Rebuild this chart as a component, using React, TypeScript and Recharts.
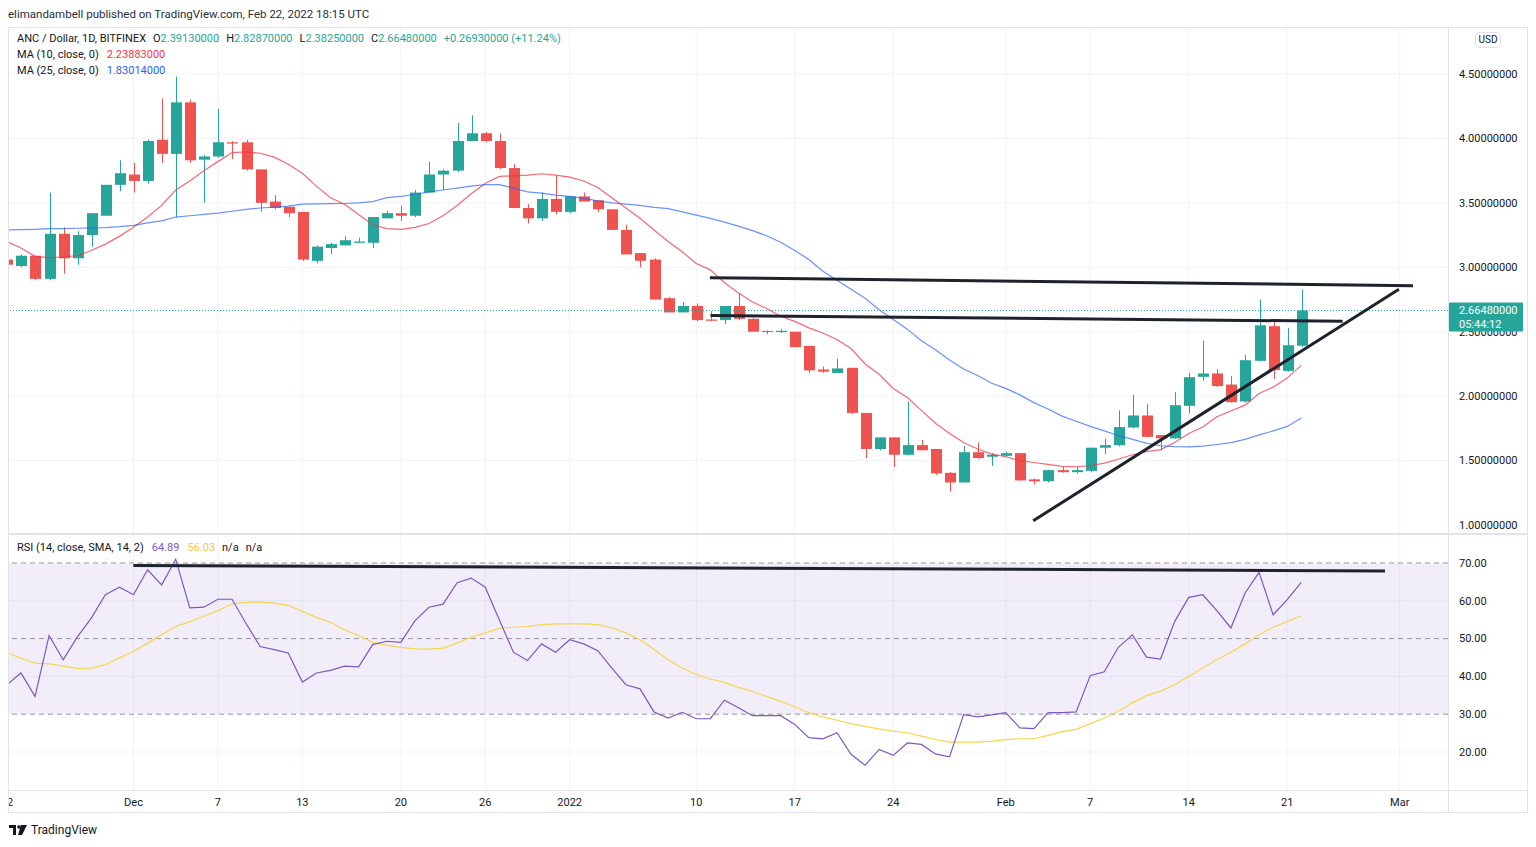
import React from 'react';
import { ComposedChart, Bar, Line, XAxis, YAxis, ReferenceLine, ReferenceArea, CartesianGrid } from 'recharts';

// Daily candles, Nov 22 2021 (index 0) .. Feb 22 2022 (index 92)
const opens = [3.06, 3.01, 3.09, 2.91, 3.26, 3.07, 3.25, 3.40, 3.64, 3.72, 3.67, 3.99, 3.88, 4.28, 3.835, 3.86, 3.97, 3.97, 3.76, 3.51, 3.47, 3.43, 3.05, 3.15, 3.17, 3.19, 3.19, 3.38, 3.42, 3.40, 3.58, 3.72, 3.75, 3.98, 4.04, 3.98, 3.77, 3.46, 3.38, 3.53, 3.43, 3.55, 3.52, 3.45, 3.29, 3.11, 3.06, 2.76, 2.65, 2.70, 2.595, 2.59, 2.70, 2.60, 2.506, 2.497, 2.50, 2.39, 2.207, 2.18, 2.22, 1.87, 1.59, 1.68, 1.545, 1.62, 1.59, 1.405, 1.33, 1.565, 1.53, 1.537, 1.558, 1.354, 1.34, 1.426, 1.41, 1.42, 1.60, 1.62, 1.757, 1.85, 1.698, 1.672, 1.925, 2.15, 2.176, 2.09, 1.959, 2.274, 2.543, 2.196, 2.3913];
const highs = [3.07, 3.10, 3.09, 3.58, 3.31, 3.28, 3.42, 3.64, 3.83, 3.81, 3.99, 4.31, 4.48, 4.30, 3.87, 4.23, 3.98, 3.99, 3.76, 3.56, 3.47, 3.43, 3.17, 3.19, 3.24, 3.23, 3.39, 3.44, 3.48, 3.60, 3.82, 3.76, 4.12, 4.18, 4.05, 4.04, 3.80, 3.49, 3.58, 3.71, 3.55, 3.58, 3.52, 3.45, 3.33, 3.11, 3.07, 2.77, 2.73, 2.72, 2.66, 2.70, 2.80, 2.61, 2.51, 2.52, 2.50, 2.39, 2.23, 2.29, 2.22, 1.87, 1.68, 1.68, 1.96, 1.66, 1.59, 1.41, 1.615, 1.64, 1.56, 1.57, 1.56, 1.36, 1.43, 1.45, 1.45, 1.60, 1.67, 1.89, 2.01, 1.94, 1.70, 2.03, 2.18, 2.43, 2.21, 2.155, 2.32, 2.75, 2.576, 2.53, 2.8287];
const lows = [3.01, 3.00, 2.90, 2.90, 2.95, 3.02, 3.16, 3.40, 3.59, 3.58, 3.65, 3.81, 3.39, 3.81, 3.50, 3.85, 3.84, 3.75, 3.43, 3.45, 3.39, 3.05, 3.03, 3.10, 3.17, 3.19, 3.15, 3.38, 3.36, 3.39, 3.58, 3.60, 3.74, 3.98, 3.97, 3.76, 3.46, 3.34, 3.36, 3.41, 3.42, 3.51, 3.43, 3.29, 3.10, 3.00, 2.75, 2.65, 2.65, 2.58, 2.58, 2.56, 2.59, 2.50, 2.48, 2.49, 2.38, 2.18, 2.18, 2.18, 1.86, 1.52, 1.58, 1.45, 1.54, 1.58, 1.39, 1.26, 1.33, 1.515, 1.46, 1.53, 1.345, 1.315, 1.33, 1.405, 1.40, 1.41, 1.55, 1.61, 1.75, 1.68, 1.58, 1.67, 1.865, 2.12, 2.07, 1.95, 1.95, 2.27, 2.134, 2.19, 2.3825];
const closes = [3.02, 3.09, 2.91, 3.26, 3.07, 3.25, 3.42, 3.64, 3.73, 3.67, 3.98, 3.88, 4.28, 3.83, 3.86, 3.97, 3.96, 3.76, 3.50, 3.46, 3.42, 3.06, 3.16, 3.18, 3.21, 3.20, 3.39, 3.42, 3.40, 3.58, 3.72, 3.75, 3.98, 4.04, 3.98, 3.77, 3.46, 3.38, 3.53, 3.43, 3.55, 3.51, 3.45, 3.29, 3.10, 3.05, 2.75, 2.65, 2.70, 2.59, 2.585, 2.70, 2.60, 2.50, 2.498, 2.507, 2.38, 2.20, 2.19, 2.215, 1.87, 1.59, 1.68, 1.545, 1.62, 1.58, 1.40, 1.33, 1.565, 1.52, 1.545, 1.558, 1.346, 1.339, 1.426, 1.41, 1.426, 1.60, 1.62, 1.76, 1.85, 1.684, 1.672, 1.93, 2.147, 2.176, 2.078, 1.953, 2.279, 2.55, 2.202, 2.3955, 2.6648];
const ma10 = [3.20, 3.15, 3.085, 3.075, 3.08, 3.09, 3.13, 3.18, 3.24, 3.31, 3.39, 3.48, 3.60, 3.67, 3.75, 3.82, 3.89, 3.895, 3.885, 3.855, 3.80, 3.73, 3.63, 3.54, 3.49, 3.41, 3.33, 3.30, 3.295, 3.31, 3.34, 3.40, 3.48, 3.57, 3.65, 3.705, 3.71, 3.715, 3.726, 3.715, 3.70, 3.67, 3.62, 3.54, 3.46, 3.38, 3.29, 3.20, 3.12, 3.03, 2.98, 2.88, 2.80, 2.73, 2.68, 2.62, 2.58, 2.53, 2.49, 2.44, 2.37, 2.25, 2.17, 2.06, 1.99, 1.89, 1.79, 1.71, 1.64, 1.59, 1.55, 1.53, 1.50, 1.485, 1.47, 1.455, 1.452, 1.46, 1.48, 1.51, 1.545, 1.57, 1.585, 1.64, 1.71, 1.76, 1.84, 1.885, 1.93, 2.02, 2.07, 2.14, 2.239];
const ma25 = [3.29, 3.292, 3.295, 3.30, 3.30, 3.303, 3.306, 3.308, 3.315, 3.326, 3.345, 3.36, 3.39, 3.40, 3.41, 3.42, 3.435, 3.45, 3.46, 3.467, 3.475, 3.49, 3.492, 3.494, 3.495, 3.50, 3.51, 3.54, 3.55, 3.565, 3.585, 3.60, 3.615, 3.63, 3.641, 3.641, 3.615, 3.585, 3.575, 3.56, 3.55, 3.535, 3.515, 3.50, 3.49, 3.48, 3.465, 3.455, 3.43, 3.405, 3.38, 3.35, 3.32, 3.285, 3.245, 3.195, 3.13, 3.06, 2.97, 2.90, 2.83, 2.76, 2.67, 2.595, 2.52, 2.43, 2.36, 2.28, 2.21, 2.16, 2.10, 2.06, 2.01, 1.95, 1.90, 1.845, 1.805, 1.765, 1.73, 1.695, 1.665, 1.635, 1.615, 1.608, 1.607, 1.612, 1.625, 1.64, 1.665, 1.70, 1.73, 1.765, 1.83];
const rsi = [37.8, 40.9, 34.7, 50.8, 44.4, 50.4, 55.4, 61.6, 63.6, 61.6, 68.2, 64.2, 71.0, 58.1, 58.3, 60.4, 60.4, 54.0, 47.9, 47.1, 46.2, 38.5, 40.9, 41.6, 42.7, 42.5, 48.4, 49.3, 49.0, 54.7, 58.3, 59.1, 64.8, 66.0, 63.6, 55.0, 46.4, 44.2, 48.6, 46.4, 49.7, 48.6, 46.8, 42.2, 37.8, 36.7, 30.6, 29.0, 30.5, 28.8, 28.8, 33.7, 31.7, 29.6, 29.6, 29.6, 27.3, 23.8, 23.5, 25.1, 19.4, 16.5, 20.7, 19.1, 22.4, 22.0, 19.5, 18.7, 29.9, 29.3, 29.8, 30.4, 26.4, 26.2, 30.4, 30.4, 30.6, 40.2, 41.2, 47.7, 51.0, 45.1, 44.6, 54.5, 60.9, 61.6, 57.4, 52.8, 62.0, 67.5, 56.3, 60.3, 64.89];
const rsiSma = [46.3, 44.8, 43.5, 43.3, 42.7, 42.1, 42.2, 43.1, 44.9, 46.6, 48.8, 51.0, 53.2, 54.5, 55.9, 57.4, 59.2, 59.6, 59.7, 59.4, 58.8, 57.2, 55.6, 54.3, 52.3, 50.8, 49.0, 48.2, 47.7, 47.3, 47.2, 47.5, 48.8, 50.4, 51.5, 52.7, 53.0, 53.2, 53.7, 53.9, 53.9, 53.9, 53.7, 52.8, 51.5, 49.7, 47.1, 44.4, 42.2, 40.5, 39.3, 38.4, 37.1, 36.0, 34.7, 33.4, 31.9, 30.4, 29.3, 28.4, 27.5, 26.8, 26.1, 25.5, 25.1, 24.2, 23.3, 22.6, 22.6, 22.6, 22.9, 23.3, 23.5, 23.5, 24.4, 25.4, 26.0, 27.5, 29.0, 30.8, 33.0, 34.9, 36.1, 37.8, 40.0, 42.2, 44.4, 46.4, 48.6, 51.0, 53.0, 54.5, 56.03];

const tickDays = [0, 9, 15, 21, 28, 34, 40, 49, 56, 63, 71, 77, 84, 91, 99];
const tickLabels = ['22', 'Dec', '7', '13', '20', '26', '2022', '10', '17', '24', 'Feb', '7', '14', '21', 'Mar'];
const priceTicks = [1, 1.5, 2, 2.5, 3, 3.5, 4, 4.5];
const rsiTicks = [20, 30, 40, 50, 60, 70];
const rsiGridLevels = [20, 40, 60];
const rsiDashedLevels = [30, 50, 70];
const priceDrawings = [
  { x1: 49.97, y1: 2.919, x2: 99.94, y2: 2.857 },
  { x1: 50.01, y1: 2.626, x2: 94.94, y2: 2.581 },
  { x1: 72.95, y1: 1.033, x2: 98.94, y2: 2.829 },
];
const rsiDrawings = [{ x1: 8.99, y1: 69.34, x2: 97.95, y2: 67.91 }];
const lastPrice = 2.6648;
const countdown = '05:44:12';

const xDomain = [0.151, 102.43];
const priceDomain = [0.938, 4.857];
const rsiDomain = [9.95, 77.4];

const UP = '#26a69a';
const DOWN = '#ef5350';
const FONT = 'Roboto, "Noto Sans", sans-serif';
const TXT = '#131722';
const GRID = '#f0f3fa';
const BORDER = '#e0e3eb';

const data = opens.map((o, i) => ({
  d: i,
  o,
  h: highs[i],
  l: lows[i],
  c: closes[i],
  range: [lows[i], highs[i]],
  ma10: ma10[i],
  ma25: ma25[i],
  rsi: rsi[i],
  rsiSma: rsiSma[i],
}));

const Candle = (props: any) => {
  const { x, y, width, height, payload } = props;
  if (x == null || y == null) return null;
  const top = Math.min(y, y + height);
  const hh = Math.abs(height);
  const { o, h, l, c } = payload;
  const ratio = hh / (h - l || 1);
  const color = c >= o ? UP : DOWN;
  const bTop = top + (h - Math.max(o, c)) * ratio;
  const bBot = top + (h - Math.min(o, c)) * ratio;
  const cx = Math.round(x + width / 2) + 0.5;
  return (
    <g>
      <line x1={cx} x2={cx} y1={top} y2={top + hh} stroke={color} strokeWidth={1} />
      <rect x={cx - 5.5} y={bTop} width={11} height={Math.max(1, bBot - bTop)} fill={color} />
    </g>
  );
};

const PriceTag = (props: any) => {
  const vb = props.viewBox || {};
  const x = (vb.x || 0) + (vb.width || 0);
  const y = vb.y || 0;
  return (
    <g>
      <rect x={x + 1} y={y - 8} width={74} height={29} fill={UP} rx={1} />
      <text x={x + 11} y={y + 4} fill="#ffffff" fontSize={11} fontFamily={FONT}>{lastPrice.toFixed(8)}</text>
      <text x={x + 11} y={y + 18} fill="#ffffff" fontSize={11} fontFamily={FONT}>{countdown}</text>
    </g>
  );
};

const Abs = ({ left, top, children, style }: any) => (
  <div style={{ position: 'absolute', left, top, whiteSpace: 'nowrap', ...style }}>{children}</div>
);

export default function App() {
  const legendStyle = { fontFamily: FONT, fontSize: 11, color: TXT, lineHeight: '14px' };
  return (
    <div style={{ position: 'absolute', left: 0, top: 0, width: 1536, height: 847, background: '#ffffff', overflow: 'hidden', fontFamily: FONT }}>
      <Abs left={8} top={6} style={{ fontSize: 11.5, color: '#2a2e39', lineHeight: '16px' }}>
        elimandambell published on TradingView.com, Feb 22, 2022 18:15 UTC
      </Abs>

      {/* frame */}
      <div style={{ position: 'absolute', left: 8, top: 27, width: 1520, height: 786, border: `1px solid ${BORDER}`, boxSizing: 'border-box' }} />

      {/* price pane */}
      <div style={{ position: 'absolute', left: 9, top: 28 }}>
        <ComposedChart width={1519} height={505} data={data} margin={{ top: 0, right: 0, bottom: 0, left: 0 }}>
          <CartesianGrid stroke={GRID} verticalValues={tickDays} horizontalValues={priceTicks} />
          <XAxis type="number" dataKey="d" domain={xDomain} allowDataOverflow hide />
          <YAxis
            orientation="right"
            width={80}
            domain={priceDomain}
            allowDataOverflow
            ticks={priceTicks}
            tickFormatter={(v: number) => v.toFixed(8)}
            tick={{ fontSize: 11, fill: TXT, fontFamily: FONT }}
            axisLine={false}
            tickLine={false}
            tickMargin={5}
          />
          <Bar dataKey="range" barSize={11} shape={<Candle />} isAnimationActive={false} />
          <Line type="linear" dataKey="ma10" stroke="#f23645" strokeOpacity={0.75} strokeWidth={1.2} dot={false} isAnimationActive={false} />
          <Line type="linear" dataKey="ma25" stroke="#2962ff" strokeOpacity={0.7} strokeWidth={1.2} dot={false} isAnimationActive={false} />
          <ReferenceLine y={lastPrice} stroke={UP} strokeDasharray="1 2" />
          {priceDrawings.map((s, i) => (
            <ReferenceLine key={i} segment={[{ x: s.x1, y: s.y1 }, { x: s.x2, y: s.y2 }]} stroke="#1e222d" strokeWidth={3} ifOverflow="visible" />
          ))}
        </ComposedChart>
      </div>

      {/* last-price tag overlay, drawn above the price axis labels */}
      <div style={{ position: 'absolute', left: 9, top: 28 }}>
        <ComposedChart width={1519} height={505} data={data} margin={{ top: 0, right: 80, bottom: 0, left: 0 }}>
          <XAxis type="number" dataKey="d" domain={xDomain} allowDataOverflow hide />
          <YAxis domain={priceDomain} allowDataOverflow hide />
          <ReferenceLine y={lastPrice} stroke="none" label={<PriceTag />} />
        </ComposedChart>
      </div>

      {/* RSI pane */}
      <div style={{ position: 'absolute', left: 9, top: 535 }}>
        <ComposedChart width={1519} height={278} data={data} margin={{ top: 0, right: 0, bottom: 0, left: 0 }}>
          <CartesianGrid stroke={GRID} verticalValues={tickDays} horizontalValues={rsiGridLevels} />
          <XAxis
            type="number"
            dataKey="d"
            domain={xDomain}
            allowDataOverflow
            ticks={tickDays}
            interval={0}
            tickFormatter={(v: number) => tickLabels[tickDays.indexOf(v)] ?? ''}
            height={23}
            tick={{ fontSize: 11, fill: TXT, fontFamily: FONT }}
            axisLine={false}
            tickLine={false}
          />
          <YAxis
            orientation="right"
            width={80}
            domain={rsiDomain}
            allowDataOverflow
            ticks={rsiTicks}
            tickFormatter={(v: number) => v.toFixed(2)}
            tick={{ fontSize: 11, fill: TXT, fontFamily: FONT }}
            axisLine={false}
            tickLine={false}
            tickMargin={5}
          />
          <ReferenceArea y1={30} y2={70} fill="#7e57c2" fillOpacity={0.1} stroke="none" />
          {rsiDashedLevels.map((v) => (
            <ReferenceLine key={v} y={v} stroke="#9598a1" strokeDasharray="5 4" />
          ))}
          <Line type="linear" dataKey="rsiSma" stroke="#f5d64c" strokeWidth={1.2} dot={false} isAnimationActive={false} />
          <Line type="linear" dataKey="rsi" stroke="#7e57c2" strokeWidth={1.2} dot={false} isAnimationActive={false} />
          {rsiDrawings.map((s, i) => (
            <ReferenceLine key={i} segment={[{ x: s.x1, y: s.y1 }, { x: s.x2, y: s.y2 }]} stroke="#1e222d" strokeWidth={3} ifOverflow="visible" />
          ))}
        </ComposedChart>
      </div>

      {/* separators */}
      <div style={{ position: 'absolute', left: 9, top: 533, width: 1519, height: 2, background: BORDER }} />
      <div style={{ position: 'absolute', left: 9, top: 790, width: 1519, height: 1, background: BORDER }} />
      <div style={{ position: 'absolute', left: 1448, top: 28, width: 1, height: 784, background: BORDER }} />

      {/* USD badge */}
      <div style={{ position: 'absolute', left: 1475, top: 32, width: 26, height: 16, border: `1px solid ${BORDER}`, borderRadius: 4, boxSizing: 'border-box', fontSize: 10, color: TXT, textAlign: 'center', lineHeight: '14px', background: '#fff' }}>USD</div>

      {/* legends */}
      <Abs left={17} top={32} style={legendStyle}>
        <span>ANC / Dollar, 1D, BITFINEX</span>
        <span style={{ marginLeft: 7 }}>O<span style={{ color: UP }}>2.39130000</span></span>
        <span style={{ marginLeft: 7 }}>H<span style={{ color: UP }}>2.82870000</span></span>
        <span style={{ marginLeft: 7 }}>L<span style={{ color: UP }}>2.38250000</span></span>
        <span style={{ marginLeft: 7 }}>C<span style={{ color: UP }}>2.66480000</span></span>
        <span style={{ marginLeft: 7, color: UP }}>+0.26930000 (+11.24%)</span>
      </Abs>
      <Abs left={17} top={48} style={legendStyle}>
        <span>MA (10, close, 0)</span>
        <span style={{ marginLeft: 8, color: '#f23645' }}>2.23883000</span>
      </Abs>
      <Abs left={17} top={64} style={legendStyle}>
        <span>MA (25, close, 0)</span>
        <span style={{ marginLeft: 8, color: '#2962ff' }}>1.83014000</span>
      </Abs>
      <Abs left={17} top={541} style={legendStyle}>
        <span>RSI (14, close, SMA, 14, 2)</span>
        <span style={{ marginLeft: 8, color: '#7e57c2' }}>64.89</span>
        <span style={{ marginLeft: 8, color: '#f2c94c' }}>56.03</span>
        <span style={{ marginLeft: 7 }}>n/a</span>
        <span style={{ marginLeft: 7 }}>n/a</span>
      </Abs>

      {/* footer */}
      <svg style={{ position: 'absolute', left: 9, top: 824 }} width={20} height={12}>
        <rect x={0} y={1} width={7} height={3} fill={TXT} />
        <rect x={4} y={1} width={3} height={10} fill={TXT} />
        <circle cx={10} cy={3} r={1.8} fill={TXT} />
        <polygon points="12,1 18,1 13,11 9,11" fill={TXT} />
      </svg>
      <Abs left={31} top={822} style={{ fontSize: 12, color: TXT, lineHeight: '16px' }}>TradingView</Abs>
    </div>
  );
}
